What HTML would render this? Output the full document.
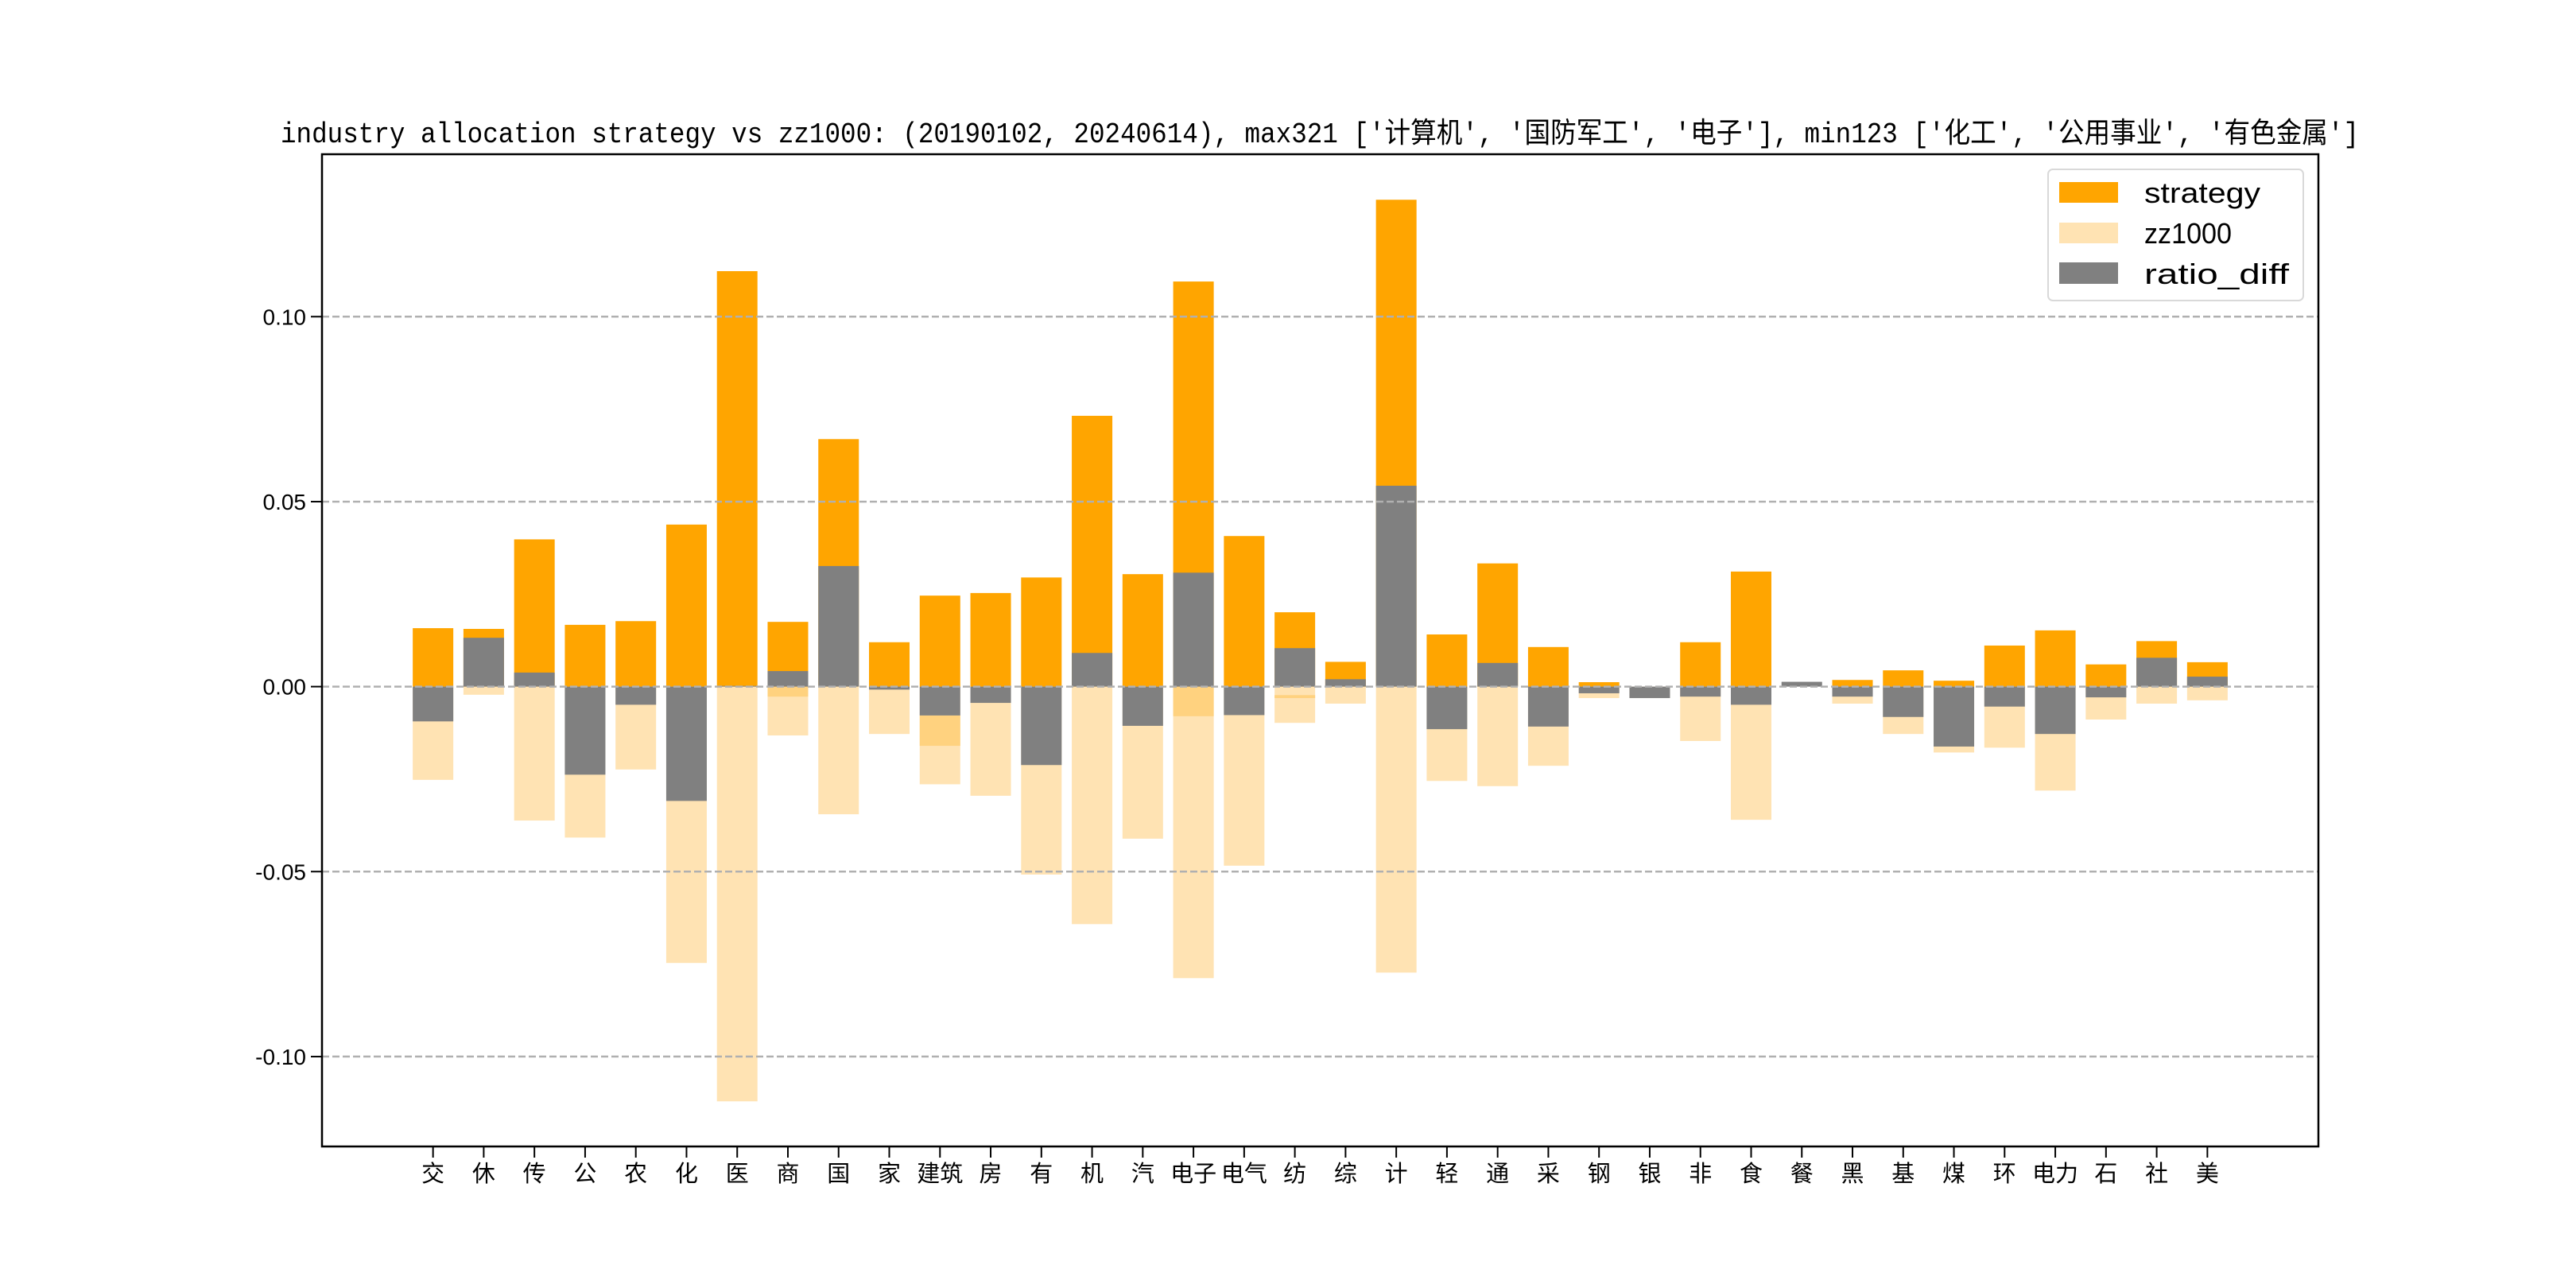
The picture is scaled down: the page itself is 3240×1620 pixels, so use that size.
<!DOCTYPE html>
<html><head><meta charset="utf-8"><style>
html,body{margin:0;padding:0;background:#fff;}
svg{display:block;font-family:"Liberation Sans","Noto Sans CJK SC",sans-serif;}
</style></head><body>
<svg id="chart" width="3240" height="1620" viewBox="0 0 3240 1620" xmlns="http://www.w3.org/2000/svg">
<rect width="3240" height="1620" fill="#fff"/>
<text x="353" y="179" font-size="36" textLength="2614" lengthAdjust="spacingAndGlyphs" font-family="'Liberation Mono','Noto Sans CJK SC',monospace">industry allocation strategy vs zz1000: (20190102, 20240614), max321 ['计算机', '国防军工', '电子'], min123 ['化工', '公用事业', '有色金属']</text>
<g id="bars"></g>
<g id="grid"></g>
<g id="axes"></g>
<g id="legend">
<rect x="2576" y="213" width="321" height="165" rx="6" fill="#fff" fill-opacity="0.8" stroke="#d9d9d9" stroke-width="2"/>
<rect x="2590" y="229" width="74" height="26" fill="#FFA500"/>
<text x="2697" y="255" font-size="36" textLength="146" lengthAdjust="spacingAndGlyphs">strategy</text>
<rect x="2590" y="280" width="74" height="26" fill="#FFE3B3"/>
<text x="2697" y="306" font-size="36" textLength="110" lengthAdjust="spacingAndGlyphs">zz1000</text>
<rect x="2590" y="330" width="74" height="27" fill="#808080"/>
<text x="2697" y="357" font-size="36" textLength="182" lengthAdjust="spacingAndGlyphs">ratio_diff</text>
</g>
</svg>
<script>
const categories = ["交","休","传","公","农","化","医","商","国","家","建筑","房","有","机","汽","电子","电气","纺","综","计","轻","通","采","钢","银","非","食","餐","黑","基","煤","环","电力","石","社","美"];
const strategy = [0.0158,0.0156,0.0398,0.0167,0.0177,0.0438,0.1123,0.0175,0.0669,0.0120,0.0246,0.0253,0.0295,0.0732,0.0304,0.1095,0.0407,0.0201,0.0067,0.1316,0.0141,0.0333,0.0107,0.0012,0.0,0.0120,0.0311,0.0,0.0018,0.0044,0.0016,0.0111,0.0152,0.0060,0.0123,0.0066];
const zz1000 = [0.0252,0.0022,0.0362,0.0408,0.0224,0.0747,0.1121,0.0132,0.0345,0.0128,0.0264,0.0295,0.0508,0.0642,0.0411,0.0788,0.0484,0.0098,0.0046,0.0773,0.0255,0.0269,0.0214,0.0031,0.0031,0.0147,0.0360,0.0,0.0046,0.0128,0.0178,0.0165,0.0281,0.0089,0.0046,0.0037];
const ratioDiff = [-0.0094,0.0132,0.0038,-0.0238,-0.0049,-0.0309,0.0002,0.0042,0.0326,-0.0008,-0.0078,-0.0044,-0.0212,0.0091,-0.0106,0.0308,-0.0077,0.0104,0.0020,0.0543,-0.0115,0.0064,-0.0108,-0.0018,-0.0031,-0.0027,-0.0049,0.0013,-0.0027,-0.0082,-0.0162,-0.0054,-0.0128,-0.0029,0.0078,0.0027];
const overlapTop = [0,0,0,0,0,0,0,0,0,0,-0.0078,0,0,0,0,0,0,-0.0023,0,0,0,0,0,0,0,0,0,0,0,0,0,0,0,0,0,0];
const overlapBottom = [0,0,0,0,0,0,0,-0.0027,0,0,-0.0160,0,0,0,0,-0.0080,0,-0.0031,0,0,0,0,0,0,0,0,0,0,0,0,0,0,0,0,0,0];
const yTicks = [0.10,0.05,0.00,-0.05,-0.10];
const yTickLabels = ["0.10","0.05","0.00","-0.05","-0.10"];

const NS="http://www.w3.org/2000/svg";
const L=405,R=2916,T=194,B=1442;
const xMin=-2.19,xMax=categories.length-1+2.19;
const yMin=-0.1243,yMax=0.1439;
function xs(i){return L+(i-xMin)/(xMax-xMin)*(R-L);}
function ys(v){return B-(v-yMin)/(yMax-yMin)*(B-T);}
const bw=0.8*(R-L)/(xMax-xMin);
function mk(tag,attrs,parent){const e=document.createElementNS(NS,tag);for(const k in attrs)e.setAttribute(k,attrs[k]);parent.appendChild(e);return e;}
function bar(parent,i,a,b,fill){const y1=ys(Math.max(a,b)),y2=ys(Math.min(a,b));return mk('rect',{x:xs(i)-bw/2,y:y1,width:bw,height:Math.max(0,y2-y1),fill:fill},parent);}
const gB=document.getElementById('bars'),gG=document.getElementById('grid'),gA=document.getElementById('axes');
categories.forEach((c,i)=>{
  let r=bar(gB,i,0,-zz1000[i],'#FFE3B3');
  
  
  if(overlapTop[i]!==overlapBottom[i]){
    r=bar(gB,i,overlapTop[i],overlapBottom[i],'#FFD27F');
    
    
  }
  r=bar(gB,i,0,strategy[i],'#FFA500');
  
  
  r=bar(gB,i,0,ratioDiff[i],'#808080');
  
  
  const tk=mk('line',{x1:xs(i),x2:xs(i),y1:B,y2:B+14,stroke:'#000','stroke-width':2},gA);
  
  
  const tx=mk('text',{x:xs(i),y:B+44,'font-size':29,'text-anchor':'middle'},gA);
  tx.textContent=c;
  
  
});
yTicks.forEach((v,k)=>{
  const g=mk('line',{x1:L,x2:R,y1:ys(v),y2:ys(v),stroke:'#b0b0b0','stroke-width':2.5,'stroke-dasharray':'9 4'},gG);
  
  
  const t=mk('line',{x1:L-14,x2:L,y1:ys(v),y2:ys(v),stroke:'#000','stroke-width':2},gA);
  
  
  const tx=mk('text',{x:L-20,y:ys(v)+10,'font-size':28,'text-anchor':'end'},gA);
  tx.textContent=yTickLabels[k];
  
  
});
const fr=mk('rect',{x:L,y:T,width:R-L,height:B-T,fill:'none',stroke:'#000','stroke-width':2.5},gA);


</script>
</body></html>
